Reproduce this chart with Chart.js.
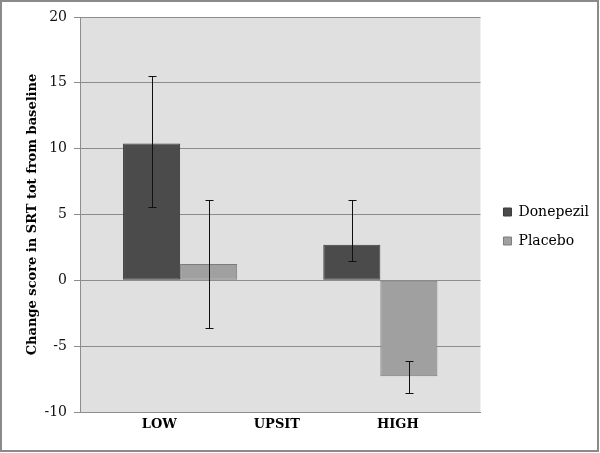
<!DOCTYPE html>
<html>
<head>
<meta charset="utf-8">
<script src="https://cdn.jsdelivr.net/npm/chart.js@4.4.0/dist/chart.umd.min.js"></script>
<style>
  html, body { margin: 0; padding: 0; background: #fff; }
  #wrap { width: 600px; height: 453px; position: relative; }
</style>
</head>
<body>
<div id="wrap"><canvas id="srtChart"></canvas></div>
<script>
// data
const categories = ["LOW", "HIGH"];
const donepezil = [10.4, 2.7];
const placebo = [1.24, -7.28];
// error bars (upper / lower length)
const donepezilErrUp = [5.1, 3.4];
const donepezilErrDown = [4.85, 1.2];
const placeboErrUp = [4.86, 1.17];
const placeboErrDown = [4.84, 1.24];
const yTicks = [-10, -5, 0, 5, 10, 15, 20];

const gridGray = "#8c8c8c";

// grey plot background + outer frame
const backgroundPlugin = {
  id: "plotBackground",
  beforeDraw(chart) {
    const { ctx, chartArea } = chart;
    ctx.save();
    ctx.fillStyle = "#e0e0e0";
    ctx.fillRect(chartArea.left, chartArea.top, chartArea.right - chartArea.left, chartArea.bottom - chartArea.top);
    ctx.strokeStyle = "#8a8a8a";
    ctx.lineWidth = 2;
    ctx.strokeRect(1, 1, chart.width - 3, chart.height - 3);
    ctx.restore();
  },
};

// draws the error bars using the y scale
const errorBarPlugin = {
  id: "errorBars",
  afterDatasetsDraw(chart) {
    const { ctx } = chart;
    const yScale = chart.scales.y;
    const errs = [
      [donepezilErrUp, donepezilErrDown],
      [placeboErrUp, placeboErrDown],
    ];
    ctx.save();
    ctx.strokeStyle = "#111";
    ctx.lineWidth = 1;
    chart.data.datasets.forEach((ds, i) => {
      const meta = chart.getDatasetMeta(i);
      meta.data.forEach((bar, j) => {
        const v = ds.data[j];
        const x = Math.round(bar.x) + 0.5;
        const top = Math.round(yScale.getPixelForValue(v + errs[i][0][j])) + 0.5;
        const bot = Math.round(yScale.getPixelForValue(v - errs[i][1][j])) + 0.5;
        ctx.beginPath();
        ctx.moveTo(x, top);
        ctx.lineTo(x, bot);
        ctx.moveTo(x - 4, top);
        ctx.lineTo(x + 4, top);
        ctx.moveTo(x - 4, bot);
        ctx.lineTo(x + 4, bot);
        ctx.stroke();
      });
    });
    ctx.restore();
  },
};

const chartData = {
  labels: categories,
  datasets: [
    {
      label: "Donepezil",
      data: donepezil,
      backgroundColor: "#4b4b4b",
      borderColor: "#3a3a3a",
      borderWidth: 1,
      borderSkipped: false,
    },
    {
      label: "Placebo",
      data: placebo,
      backgroundColor: "#a0a0a0",
      borderColor: "#7c7c7c",
      borderWidth: 1,
      borderSkipped: false,
    },
  ],
};

const chartConfig = {
  type: "bar",
  data: chartData,
  plugins: [backgroundPlugin, errorBarPlugin],
  options: {
    responsive: true,
    maintainAspectRatio: false,
    animation: false,
    layout: { padding: { left: 0, right: 1, top: 17, bottom: 17 } },
    datasets: {
      bar: { categoryPercentage: 0.57, barPercentage: 1.0 },
    },
    scales: {
      x: {
        grid: { display: false },
        border: { display: true, color: gridGray },
        ticks: { display: false },
        title: {
          display: true,
          text: "LOW                 UPSIT                 HIGH",
          font: { family: "DejaVu Serif", size: 13, weight: "bold" },
          color: "#000",
          padding: { top: 0, bottom: 4 },
        },
        afterFit(scale) {
          scale.height = 24;
        },
      },
      y: {
        min: -10,
        max: 20,
        afterBuildTicks(scale) {
          scale.ticks = yTicks.map((v) => ({ value: v }));
        },
        grid: { color: gridGray, tickLength: 6, tickColor: gridGray },
        border: { color: gridGray },
        ticks: {
          font: { family: "DejaVu Serif", size: 14 },
          color: "#111",
          padding: 7,
        },
        title: {
          display: true,
          text: "Change score in SRT tot from baseline",
          font: { family: "DejaVu Serif", size: 13, weight: "bold" },
          color: "#000",
          padding: { top: 25, bottom: 0 },
        },
        afterFit(scale) {
          scale.width = 80;
        },
      },
      gap: {
        type: "linear",
        position: "right",
        min: 0,
        max: 1,
        display: true,
        grid: { display: false },
        border: { display: false },
        ticks: { display: false },
        afterFit(scale) {
          scale.width = 8;
        },
      },
    },
    plugins: {
      legend: {
        position: "right",
        maxWidth: 130,
        labels: {
          boxWidth: 8,
          boxHeight: 8,
          padding: 15,
          color: "#000",
          font: { family: "DejaVu Serif", size: 14 },
        },
      },
      tooltip: { enabled: false },
    },
  },
};

const ctx = document.getElementById("srtChart");
if (ctx) new Chart(ctx, chartConfig);
</script>
</body>
</html>
